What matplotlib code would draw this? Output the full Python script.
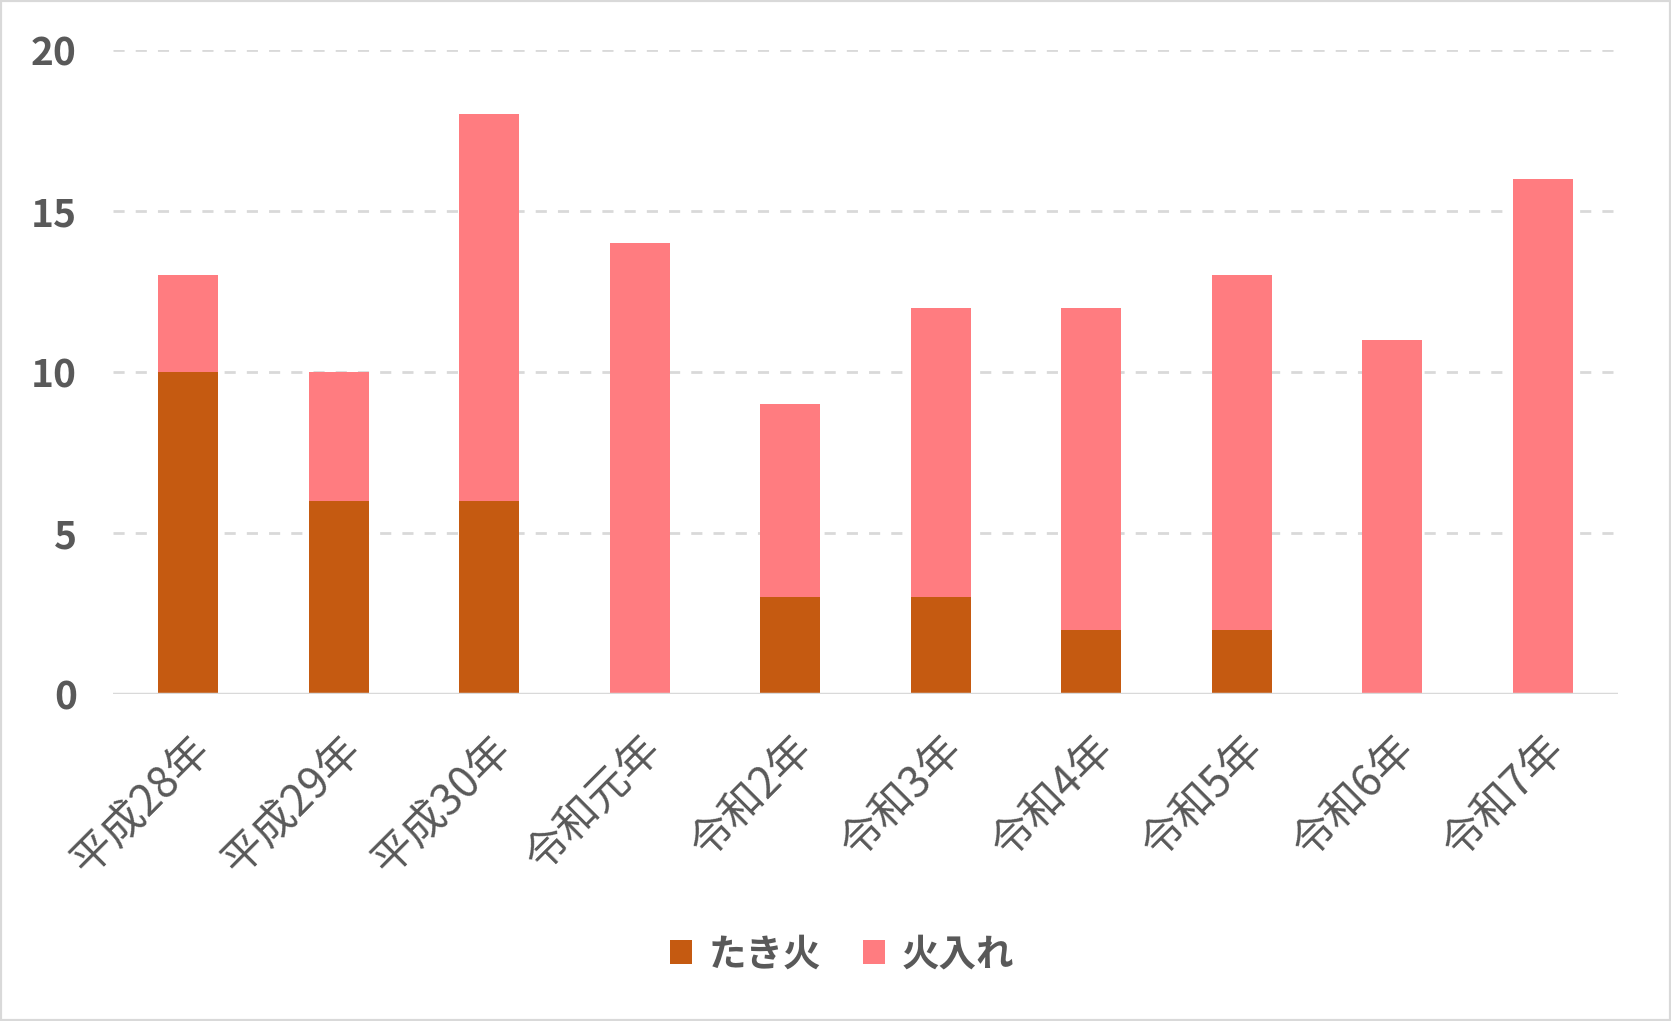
import matplotlib
matplotlib.use("Agg")
import matplotlib.pyplot as plt
import matplotlib.transforms as mtransforms
from matplotlib.patches import Rectangle
import numpy as np

categories = ["平成28年", "平成29年", "平成30年", "令和元年", "令和2年", "令和3年", "令和4年", "令和5年", "令和6年", "令和7年"]
takibi = [10, 6, 6, 0, 3, 3, 2, 2, 0, 0]
hiire = [3, 4, 12, 14, 6, 9, 10, 11, 11, 16]
series_names = ["たき火", "火入れ"]
yticks = [0, 5, 10, 15, 20]

plt.rcParams['font.family'] = ['Noto Sans CJK JP', 'DejaVu Sans']
txt = "#595959"
c1 = "#C55A11"
c2 = "#FF7C80"
grid = "#D9D9D9"

fig = plt.figure(figsize=(16.71, 10.21), dpi=100)
ax = fig.add_axes([0.0676, 0.3203, 0.9006, 0.6307])
x = np.arange(len(categories))
ax.bar(x, takibi, width=0.4, color=c1, label=series_names[0], zorder=3)
ax.bar(x, hiire, width=0.4, bottom=takibi, color=c2, label=series_names[1], zorder=3)
ax.set_xlim(-0.5, len(categories) - 0.5)
ax.set_ylim(0, 20)
ax.set_yticks(yticks)
ax.set_yticklabels([str(v) for v in yticks], fontsize=28, color=txt, fontweight='bold')
for v in yticks[1:]:
    ax.axhline(v, color=grid, lw=2, ls=(0, (4, 4)), zorder=1)
ax.axhline(0, color=grid, lw=2.5, zorder=4)
ax.set_xticks(x)
ax.set_xticklabels(categories, rotation=45, ha='right', rotation_mode='anchor', fontsize=31, color=txt)
offset = mtransforms.ScaledTranslation(-8 / 100, 0, fig.dpi_scale_trans)
for lab in ax.get_xticklabels():
    lab.set_transform(lab.get_transform() + offset)
ax.tick_params(axis='both', length=0)
ax.tick_params(axis='y', pad=26)
ax.tick_params(axis='x', pad=24)
for s in ax.spines.values():
    s.set_visible(False)

leg = fig.legend(loc='center', bbox_to_anchor=(842/1671, 1 - 954/1021), ncol=2, frameon=False,
                 fontsize=27, handlelength=0.6, handleheight=0.6, handletextpad=0.45, columnspacing=1.1)
for t in leg.get_texts():
    t.set_color(txt)
    t.set_fontweight('bold')

fig.patches.append(Rectangle((0, 0), 1, 1, transform=fig.transFigure, fill=False, edgecolor=grid, lw=3))
fig.savefig("out.png", dpi=100)
